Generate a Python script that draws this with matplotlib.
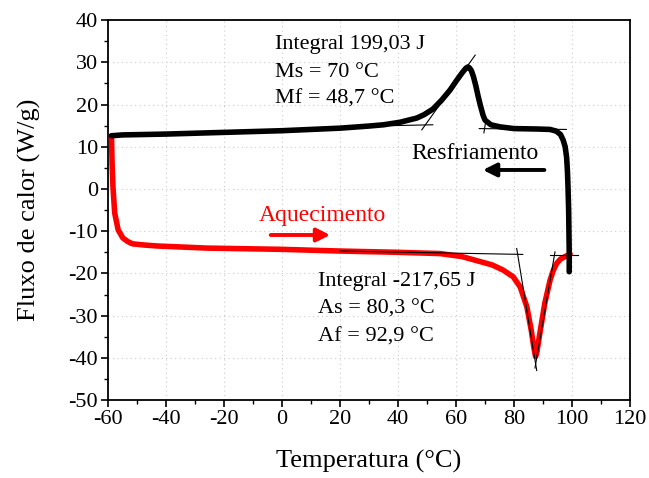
import matplotlib
matplotlib.use('Agg')
import matplotlib.pyplot as plt
from matplotlib.ticker import MultipleLocator

plt.rcParams['font.family'] = ['Liberation Serif', 'DejaVu Serif']
plt.rcParams['axes.unicode_minus'] = False

# Cooling curve (black), from 99 °C down to -59 °C
cool_t = [99.0, 99.0, 98.9, 98.8, 98.6, 98.4, 98.1, 97.6, 96.9, 96.0, 94.5, 92.4,
          88.0, 80.0, 75.2, 72.0, 70.0, 69.3, 68.5, 67.6, 66.8, 66.0, 65.3, 64.6,
          64.1, 63.4, 62.2, 60.3, 57.9, 55.0, 52.0, 49.0, 46.5, 43.0, 40.7, 35.0,
          30.0, 20.0, 10.0, 0.0, -20.0, -40.0, -55.0, -58.7]
cool_q = [-19.6, -15.0, -10.0, -5.0, 0.0, 4.0, 7.5, 10.0, 11.6, 12.9, 13.7, 14.1,
          14.2, 14.3, 14.7, 15.2, 16.3, 17.5, 19.5, 22.0, 24.5, 26.6, 28.0, 28.7,
          28.9, 28.6, 27.6, 25.8, 23.4, 21.0, 18.9, 17.6, 16.8, 16.2, 15.8, 15.2,
          14.9, 14.4, 14.1, 13.8, 13.4, 13.0, 12.8, 12.6]

# Heating curve (red), from -59 °C up to 99 °C
heat_t = [-58.7, -58.5, -58.2, -57.6, -56.4, -54.8, -53.0, -51.4, -47.0, -43.0,
          -25.9, 0.0, 20.0, 40.0, 54.5, 62.0, 68.3, 72.5, 76.2, 79.7, 82.1, 84.4,
          85.9, 86.8, 87.4, 87.9, 88.9, 90.6, 92.4, 93.5, 94.7, 96.0, 97.6, 99.3]
heat_q = [12.6, 6.0, 0.5, -5.7, -9.7, -11.6, -12.5, -13.0, -13.3, -13.5,
          -14.0, -14.3, -14.7, -15.0, -15.3, -16.0, -17.2, -18.0, -19.2, -20.8, -23.2, -27.9,
          -33.4, -37.5, -39.7, -38.5, -34.1, -27.0, -21.6, -19.3, -17.6, -16.6, -16.0, -15.4]

# Onset construction lines (thin black)
tangent_lines = [
    ((38.0, 52.0), (15.0, 15.2)),
    ((48.2, 66.6), (14.0, 31.7)),
    ((68.0, 98.0), (14.3, 14.1)),
    ((69.6, 70.3), (13.3, 16.3)),
    ((20.0, 83.0), (-14.7, -15.5)),
    ((80.9, 87.8), (-14.1, -43.0)),
    ((94.1, 87.2), (-14.9, -42.4)),
    ((92.4, 102.0), (-15.7, -15.7)),
]

fig = plt.figure(figsize=(6.49, 4.78), dpi=100)
ax = fig.add_axes([0.166, 0.163, 0.805, 0.795])

ax.plot(heat_t, heat_q, color='red', lw=4, solid_capstyle='round', zorder=3)
ax.plot(cool_t, cool_q, color='black', lw=4, solid_capstyle='round', zorder=4)
for xs, ys in tangent_lines:
    ax.plot(xs, ys, color='black', lw=0.8, zorder=5)

ax.set_xlim(-60, 120)
ax.set_ylim(-50, 40)
ax.xaxis.set_major_locator(MultipleLocator(20))
ax.xaxis.set_minor_locator(MultipleLocator(10))
ax.yaxis.set_major_locator(MultipleLocator(10))
ax.yaxis.set_minor_locator(MultipleLocator(5))
ax.tick_params(which='major', direction='out', length=5, width=1.2, labelsize=16, pad=2)
ax.tick_params(which='minor', direction='out', length=3, width=1.0)
ax.grid(True, which='major', color='#cccccc', linestyle=(0, (1, 3)), lw=0.8)
for s in ax.spines.values():
    s.set_linewidth(1.3)

ax.set_xlabel('Temperatura (°C)', fontsize=19, labelpad=15)
ax.set_ylabel('Fluxo de calor (W/g)', fontsize=19, labelpad=20)

ax.text(-2.4, 34.1, 'Integral 199,03 J', fontsize=16, va='center')
ax.text(-2.4, 27.7, 'Ms = 70 °C', fontsize=16, va='center')
ax.text(-2.4, 21.3, 'Mf = 48,7 °C', fontsize=16, va='center')
ax.text(66.5, 8.5, 'Resfriamento', fontsize=17, ha='center', va='center')
ax.annotate('', xy=(68.3, 4.5), xytext=(91.4, 4.5),
            arrowprops=dict(arrowstyle='-|>', color='black', lw=2.8, mutation_scale=20))
ax.text(14.1, -6.2, 'Aquecimento', fontsize=17, color='red', ha='center', va='center')
ax.annotate('', xy=(17.6, -10.9), xytext=(-4.8, -10.9),
            arrowprops=dict(arrowstyle='-|>', color='red', lw=2.8, mutation_scale=20))
ax.text(12.4, -22.0, 'Integral -217,65 J', fontsize=16, va='center')
ax.text(12.4, -28.4, 'As = 80,3 °C', fontsize=16, va='center')
ax.text(12.4, -35.0, 'Af = 92,9 °C', fontsize=16, va='center')

fig.savefig('out.png', dpi=100)
